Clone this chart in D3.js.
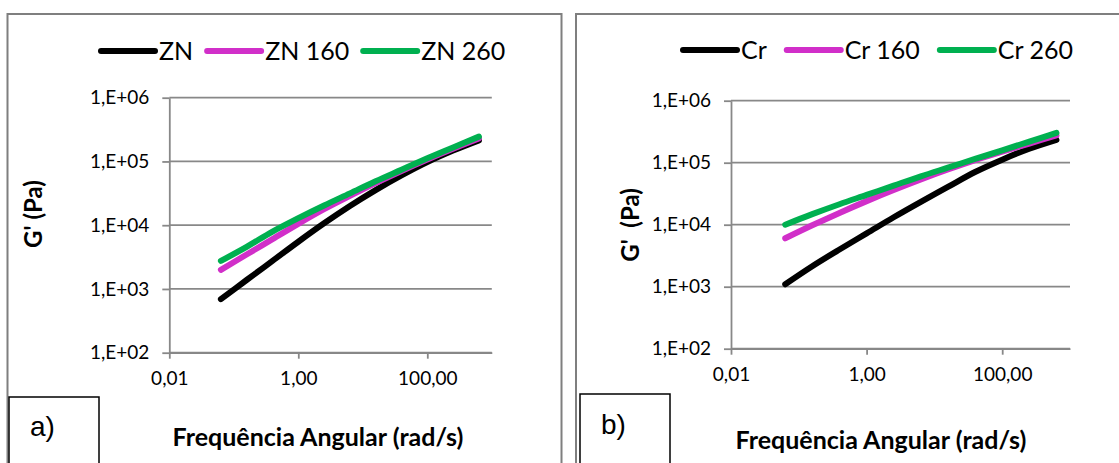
<!DOCTYPE html>
<meta charset="utf-8">
<script src="https://d3js.org/d3.v7.min.js"></script>
<style>
  body { margin: 0; background: #fff; }
  text { font-family: Lato, "Open Sans", sans-serif; fill: #000; }
</style>
<body>
<div id="chart"></div>
<script>

// angular frequency (rad/s), shared by both panels
var freq = [0.0631, 0.158, 0.398, 1.0, 2.51, 6.31, 15.8, 39.8, 100, 251, 631]

// panel a) G' (Pa)
var zn    = [692, 1380, 2750, 5500, 10700, 20000, 35500, 60300, 97700, 148000, 214000]
var zn160 = [1995, 3470, 6030, 10500, 17800, 28800, 45700, 70800, 107000, 158000, 229000]
var zn260 = [2750, 4570, 7940, 12900, 20400, 31600, 49000, 74100, 112000, 166000, 245000]

// panel b) G' (Pa)
var cr    = [1096, 2140, 3980, 7240, 13200, 23400, 40700, 70800, 112000, 168000, 234000]
var cr160 = [6030, 9770, 15500, 24000, 36300, 53700, 77600, 110000, 151000, 204000, 275000]
var cr260 = [10000, 14800, 21400, 30200, 42700, 60300, 83200, 115000, 158000, 219000, 302000]

var seriesNamesA = ["ZN", "ZN 160", "ZN 260"]
var seriesNamesB = ["Cr", "Cr 160", "Cr 260"]
var colors = ["#000000", "#d12fc9", "#00b050"]

var yTicks = [1e2, 1e3, 1e4, 1e5, 1e6]
var yTickLabels = ["1,E+02", "1,E+03", "1,E+04", "1,E+05", "1,E+06"]
var xTicks = [0.01, 1, 100]
var xTickLabels = ["0,01", "1,00", "100,00"]

var width = 1119, height = 463

var svg = d3.select("#chart").append("svg")
  .attr("width", width)
  .attr("height", height)

function drawPanel(p) {
  // outer frame
  svg.append("rect")
    .attr("x", p.frame[0]).attr("y", p.frame[1])
    .attr("width", p.frame[2]).attr("height", p.frame[3])
    .attr("fill", "none").attr("stroke", "#7f7f7f").attr("stroke-width", 2)

  var x = d3.scaleLog().domain([0.01, 1000]).range(p.xr)
  var y = d3.scaleLog().domain([1e2, 1e6]).range(p.yr)

  // horizontal gridlines
  svg.append("g").selectAll("line")
    .data(yTicks)
    .enter().append("line")
      .attr("x1", p.xr[0]).attr("x2", p.xr[1])
      .attr("y1", function(d) { return y(d) }).attr("y2", function(d) { return y(d) })
      .attr("stroke", "#888").attr("stroke-width", 1.8)

  // y axis
  var gy = svg.append("g")
    .attr("transform", "translate(" + p.xr[0] + ",0)")
    .call(d3.axisLeft(y).tickValues(yTicks).tickSize(7).tickSizeOuter(0).tickPadding(13)
      .tickFormat(function(d, i) { return yTickLabels[i] }))
  // x axis
  var gx = svg.append("g")
    .attr("transform", "translate(0," + p.yr[0] + ")")
    .call(d3.axisBottom(x).tickValues(xTicks).tickSize(6).tickSizeOuter(0).tickPadding(13)
      .tickFormat(function(d, i) { return xTickLabels[i] }))

  ;[gy, gx].forEach(function(g) {
    g.select(".domain").attr("stroke", "#888").attr("stroke-width", 1.8)
    g.selectAll(".tick line").attr("stroke", "#888").attr("stroke-width", 1.8)
    g.selectAll(".tick text").attr("fill", "#000")
      .style("font-family", "Lato, sans-serif").style("font-size", "19px")
  })

  // curves
  var line = d3.line()
    .x(function(d) { return x(d[0]) })
    .y(function(d) { return y(d[1]) })
    .curve(d3.curveCatmullRom)

  p.series.forEach(function(s, i) {
    svg.append("path")
      .datum(freq.map(function(f, j) { return [f, s[j]] }))
      .attr("d", line)
      .attr("fill", "none")
      .attr("stroke", colors[i])
      .attr("stroke-width", 6)
      .attr("stroke-linecap", "round")
  })

  // legend
  var lx = p.legendX
  p.names.forEach(function(name, i) {
    svg.append("line")
      .attr("x1", lx).attr("x2", lx + 54)
      .attr("y1", p.legendY).attr("y2", p.legendY)
      .attr("stroke", colors[i]).attr("stroke-width", 6).attr("stroke-linecap", "round")
    var t = svg.append("text")
      .attr("x", lx + 58).attr("y", p.legendY + 9)
      .style("font-size", "25px")
      .text(name)
    lx = lx + 58 + t.node().getComputedTextLength() + p.legendGap
  })

  // axis titles
  svg.append("text")
    .attr("x", p.titleX).attr("y", p.titleY)
    .attr("text-anchor", "middle")
    .style("font-size", "25px").style("font-weight", "bold")
    .text("Frequência Angular (rad/s)")

  svg.append("text")
    .attr("transform", "translate(" + p.yTitle[0] + "," + p.yTitle[1] + ") rotate(-90)")
    .attr("text-anchor", "middle")
    .style("font-size", "24px").style("font-weight", "bold")
    .style("white-space", "pre")
    .text(p.yTitleText)

  // panel letter box
  svg.append("rect")
    .attr("x", p.box[0]).attr("y", p.box[1])
    .attr("width", p.box[2]).attr("height", 100)
    .attr("fill", "#fff").attr("stroke", "#000").attr("stroke-width", 1.5)
  svg.append("text")
    .attr("x", p.box[0] + 21).attr("y", p.letterY)
    .style("font-family", "'Liberation Sans', Arial, sans-serif")
    .style("font-size", "28px")
    .text(p.letter)
}

drawPanel({
  frame: [7.5, 14, 554, 480],
  xr: [169.3, 491.8], yr: [352.7, 97.7],
  series: [zn, zn160, zn260], names: seriesNamesA,
  legendX: 101, legendY: 51, legendGap: 14,
  titleX: 318, titleY: 446,
  yTitle: [42, 214], yTitleText: "G' (Pa)",
  box: [9, 397, 90], letter: "a)", letterY: 436
})

drawPanel({
  frame: [576, 14, 560, 480],
  xr: [731, 1070], yr: [348.7, 100.7],
  series: [cr, cr160, cr260], names: seriesNamesB,
  legendX: 683, legendY: 50, legendGap: 20,
  titleX: 881, titleY: 449,
  yTitle: [639, 225], yTitleText: "G'  (Pa)",
  box: [580, 394, 90], letter: "b)", letterY: 434
})

</script>
</body>
